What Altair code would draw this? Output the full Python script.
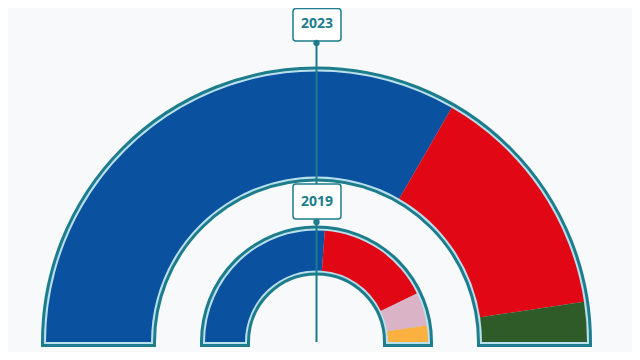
import math
import altair as alt
import pandas as pd

# ---- data ----
years = ["2023", "2019"]
parties_2023 = ["PP", "PSOE", "Vox"]
seats_2023 = [14, 6, 1]
parties_2019 = ["PP", "PSOE", "Podemos", "Cs"]
seats_2019 = [11, 7, 2, 1]
party_names = ["PP", "PSOE", "Vox", "Podemos", "Cs"]
party_colors = ["#0a51a0", "#e20714", "#2f5b28", "#dbb3c6", "#fbb03f"]

# ---- layout / style ----
W, H = 624, 344
CX, CY = 308.5, 334
RINGS = {"2023": (165.5, 270.5), "2019": (71.5, 111.5)}
TEAL = "#1d7d8c"
LIGHT = "#b9e0ec"
BG = "#f7f9fa"
HALF = math.pi / 2

def ring_df(year, parties, seats):
    return pd.DataFrame({
        "year": year,
        "party": parties,
        "seats": seats,
        "order": list(range(len(parties))),
    })

frames = {"2023": ring_df("2023", parties_2023, seats_2023),
          "2019": ring_df("2019", parties_2019, seats_2019)}

color_scale = alt.Scale(domain=party_names, range=party_colors)

layers = []
for year in years:
    df = frames[year]
    total = int(df["seats"].sum())
    inner, outer = RINGS[year]
    theta = alt.Theta("seats:Q", stack=True,
                      scale=alt.Scale(domain=[0, total], range=[-HALF, HALF]))
    tot_df = pd.DataFrame({"year": [year], "seats": [total]})
    base_tot = alt.Chart(tot_df)
    layers.append(base_tot.mark_arc(x=CX, y=CY, outerRadius=outer, innerRadius=inner,
                                    fill=TEAL, stroke=TEAL, strokeWidth=10).encode(theta=theta))
    layers.append(base_tot.mark_arc(x=CX, y=CY, outerRadius=outer, innerRadius=inner,
                                    fill=LIGHT, stroke=LIGHT, strokeWidth=4).encode(theta=theta))
    layers.append(alt.Chart(df).mark_arc(x=CX, y=CY, outerRadius=outer, innerRadius=inner,
                                         strokeWidth=0).encode(
        theta=theta,
        color=alt.Color("party:N", scale=color_scale, legend=None),
        order=alt.Order("order:Q"),
    ))

lab = pd.DataFrame({"year": years})
label_pos = {"2023": (0.5, 33, 16, 35), "2019": (176, 211, 194, 214)}

rule = alt.Chart(lab.head(1)).mark_rule(color=TEAL, strokeWidth=2).encode(
    x=alt.value(CX), y=alt.value(35), y2=alt.value(CY))
layers.append(rule)

for year in years:
    y0, y1, ty, dy = label_pos[year]
    d = lab[lab["year"] == year]
    layers.append(alt.Chart(d).mark_rect(fill="white", stroke=TEAL, strokeWidth=1.5,
                                         cornerRadius=3).encode(
        x=alt.value(CX - 23.5), x2=alt.value(CX + 24.5), y=alt.value(y0), y2=alt.value(y1)))
    layers.append(alt.Chart(d).mark_text(font="Open Sans", fontWeight="bold", fontSize=14,
                                         color=TEAL, baseline="middle", align="center").encode(
        x=alt.value(CX + 0.5), y=alt.value(ty), text="year:N"))
    layers.append(alt.Chart(d).mark_point(filled=True, color=TEAL, opacity=1, size=40,
                                          shape="circle").encode(
        x=alt.value(CX), y=alt.value(dy)))

chart = alt.layer(*layers).resolve_scale(theta="independent", color="shared").properties(
    width=W, height=H, padding=0, autosize=alt.AutoSizeParams(type="none"),
    background=BG,
).configure_view(stroke=None)

chart.save("out.html", embed_options={"renderer": "svg", "actions": False})
